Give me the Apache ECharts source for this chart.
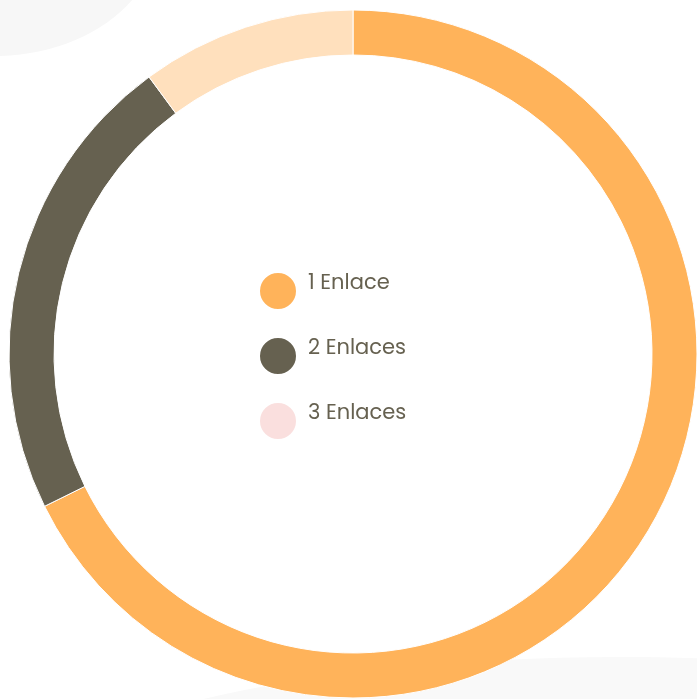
<!DOCTYPE html>
<html>
<head>
<meta charset="utf-8">
<script src="https://cdn.jsdelivr.net/npm/echarts@6/dist/echarts.min.js"></script>
<style>
  html, body { margin: 0; padding: 0; background: #fff; }
  #chart { width: 697px; height: 699px; }
</style>
</head>
<body>
<div id="chart"></div>
<script>
const categories = ['1 Enlace', '2 Enlaces', '3 Enlaces'];
const values = [67.7, 22.2, 10.1];
const sliceColors = ['#ffb35a', '#666150', '#ffe0bd'];
const legendColors = ['#ffb35a', '#666150', '#fadfde'];

const chart = echarts.init(document.getElementById('chart'));

const option = {
  backgroundColor: '#ffffff',
  animation: false,
  graphic: [
    {
      type: 'ellipse',
      z: 0,
      shape: { cx: -5, cy: -70, rx: 165, ry: 126 },
      style: { fill: '#f7f7f7' }
    },
    {
      type: 'ellipse',
      z: 0,
      shape: { cx: 620, cy: 807, rx: 600, ry: 150 },
      style: { fill: '#f9f9f9' }
    }
  ],
  legend: {
    orient: 'vertical',
    left: 258,
    top: 271,
    padding: 0,
    icon: 'circle',
    itemWidth: 38,
    itemHeight: 38,
    itemGap: 25,
    formatter: '{t|{name}}',
    textStyle: {
      rich: {
        t: {
          fontFamily: 'Poppins, "Open Sans", sans-serif',
          fontSize: 21,
          lineHeight: 22,
          color: '#666150',
          padding: [0, 0, 14, 6]
        }
      }
    },
    data: categories.map((name, i) => ({
      name: name,
      itemStyle: { color: legendColors[i] }
    }))
  },
  series: [
    {
      type: 'pie',
      z: 2,
      center: [353, 354],
      radius: [299, 344],
      startAngle: 90,
      clockwise: true,
      label: { show: false },
      labelLine: { show: false },
      emphasis: { disabled: true },
      itemStyle: { borderColor: '#ffffff', borderWidth: 1 },
      data: categories.map((name, i) => ({
        name: name,
        value: values[i],
        itemStyle: { color: sliceColors[i] }
      }))
    }
  ]
};

chart.setOption(option);
</script>
</body>
</html>
